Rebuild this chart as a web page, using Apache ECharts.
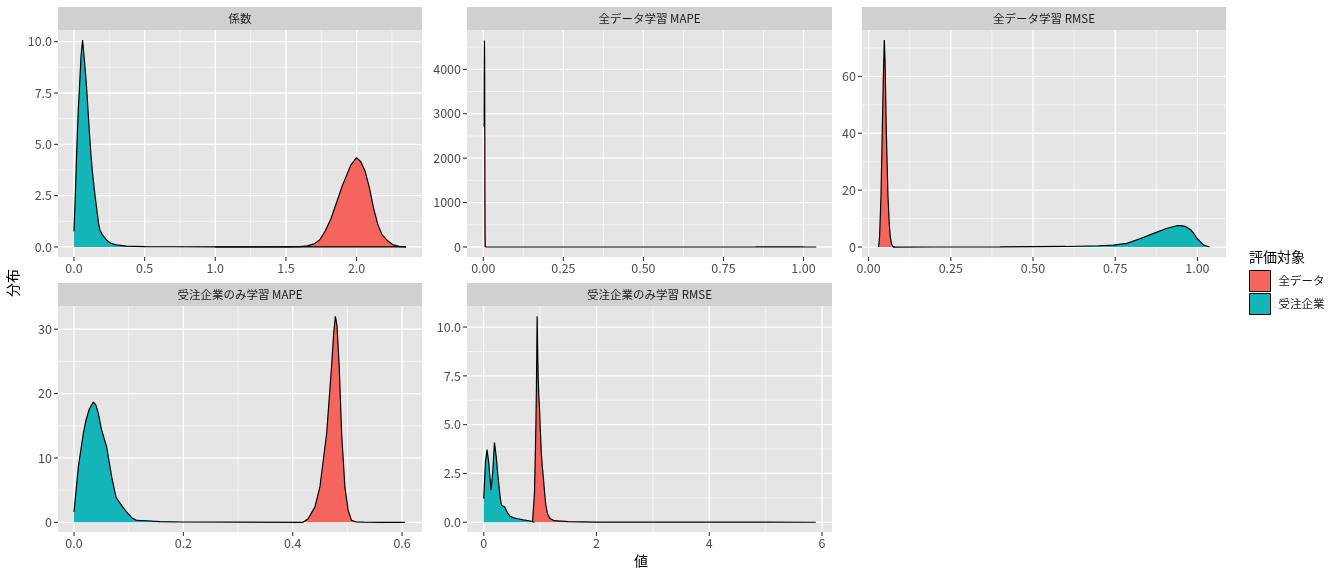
<!DOCTYPE html>
<html>
<head>
<meta charset="utf-8">
<script src="https://cdn.jsdelivr.net/npm/echarts@6/dist/echarts.min.js"></script>
<style>
  html, body { margin: 0; padding: 0; background: #fff; }
  #chart { width: 1340px; height: 576px; }
</style>
</head>
<body>
<div id="chart"></div>
<script>
// 凡例
const groups = ['全データ', '受注企業'];
const groupColors = ['#F6645E', '#13B5B9'];
const panelTitles = ['係数', '全データ学習 MAPE', '全データ学習 RMSE', '受注企業のみ学習 MAPE', '受注企業のみ学習 RMSE'];

// 係数
const coefAllX = [1.0, 1.5, 1.6, 1.65, 1.7, 1.74, 1.78, 1.82, 1.86, 1.9, 1.93, 1.96, 2.0, 2.03, 2.06, 2.09, 2.12, 2.15, 2.18, 2.22, 2.26, 2.3, 2.35];
const coefAllY = [0, 0.003, 0.02, 0.05, 0.15, 0.35, 0.8, 1.4, 2.2, 3.0, 3.5, 4.0, 4.35, 4.15, 3.7, 2.9, 1.9, 1.1, 0.6, 0.3, 0.1, 0.03, 0];
const coefOrdX = [0, 0.01, 0.02, 0.03, 0.04, 0.05, 0.061, 0.07, 0.08, 0.09, 0.1, 0.11, 0.12, 0.13, 0.14, 0.15, 0.165, 0.175, 0.184, 0.2, 0.23, 0.26, 0.3, 0.37, 0.5, 0.7, 1.0, 1.5, 2.0, 2.35];
const coefOrdY = [0.75, 2.6, 4.8, 6.6, 7.9, 9.3, 10.08, 9.4, 8.6, 7.7, 6.6, 5.5, 4.5, 3.7, 3.05, 2.45, 1.64, 1.1, 0.83, 0.6, 0.34, 0.18, 0.1, 0.04, 0.02, 0.01, 0.005, 0.002, 0.001, 0];
const coefXTicks = ['0.0', '0.5', '1.0', '1.5', '2.0'];
const coefYTicks = ['0.0', '2.5', '5.0', '7.5', '10.0'];

// 全データ学習 MAPE
const mapeAllAllX = [0.0025, 0.003, 0.0035, 0.004, 0.0045, 0.005, 0.0055, 0.006];
const mapeAllAllY = [2700, 3800, 4650, 4200, 2800, 1200, 300, 0];
const mapeAllOrdX = [0.006, 0.1, 0.3, 0.5, 0.6, 0.7, 0.75, 0.8, 0.85, 0.9, 0.94, 0.98, 1.0, 1.02, 1.04];
const mapeAllOrdY = [0, 0.01, 0.02, 0.05, 0.1, 0.2, 0.3, 0.6, 1.4, 2.5, 3.0, 2.4, 1.2, 0.4, 0];
const mapeAllXTicks = ['0.00', '0.25', '0.50', '0.75', '1.00'];
const mapeAllYTicks = ['0', '1000', '2000', '3000', '4000'];

// 全データ学習 RMSE
const rmseAllAllX = [0.0304, 0.0335, 0.0377, 0.0417, 0.045, 0.0478, 0.05, 0.0539, 0.059, 0.063, 0.066, 0.07, 0.074, 0.08];
const rmseAllAllY = [0, 3.6, 17.7, 41, 60, 72.8, 66, 41, 17.7, 8, 3.6, 1, 0.2, 0];
const rmseAllOrdX = [0.074, 0.2, 0.4, 0.6, 0.7, 0.745, 0.786, 0.827, 0.867, 0.908, 0.938, 0.95, 0.96, 0.969, 0.98, 0.99, 0.999, 1.019, 1.037];
const rmseAllOrdY = [0, 0.02, 0.05, 0.2, 0.45, 0.7, 1.3, 3.0, 4.8, 6.6, 7.5, 7.55, 7.35, 6.9, 6.0, 4.6, 3.0, 0.7, 0];
const rmseAllXTicks = ['0.00', '0.25', '0.50', '0.75', '1.00'];
const rmseAllYTicks = ['0', '20', '40', '60'];

// 受注企業のみ学習 MAPE
const mapeOrdAllX = [0.4192, 0.4283, 0.4406, 0.4497, 0.4558, 0.462, 0.471, 0.475, 0.478, 0.481, 0.485, 0.4894, 0.4954, 0.5015, 0.5076, 0.516, 0.53, 0.56, 0.605];
const mapeOrdAllY = [0.05, 0.57, 2.4, 5.5, 9.6, 13.8, 24.2, 29.5, 32.0, 30.5, 24.2, 13.8, 5.5, 1.8, 0.3, 0.05, 0.02, 0.01, 0];
const mapeOrdOrdX = [0, 0.0079, 0.017, 0.022, 0.028, 0.0353, 0.04, 0.0445, 0.0506, 0.0597, 0.0689, 0.0768, 0.0872, 0.0963, 0.1055, 0.1146, 0.133, 0.157, 0.2, 0.3, 0.42];
const mapeOrdOrdY = [1.6, 8.6, 13.8, 15.9, 17.6, 18.7, 18.2, 16.9, 14.3, 11.7, 7.05, 3.9, 2.6, 1.6, 0.72, 0.3, 0.25, 0.12, 0.05, 0.02, 0];
const mapeOrdXTicks = ['0.0', '0.2', '0.4', '0.6'];
const mapeOrdYTicks = ['0', '10', '20', '30'];

// 受注企業のみ学習 RMSE
const rmseOrdAllX = [0.865, 0.876, 0.9, 0.915, 0.925, 0.935, 0.942, 0.947, 0.955, 0.965, 0.975, 0.99, 1.0, 1.02, 1.04, 1.06, 1.08, 1.1, 1.13, 1.17, 1.25, 1.5, 2.0, 3.0, 4.0, 5.0, 5.89];
const rmseOrdAllY = [0, 0.1, 1.5, 3.5, 5.0, 7.0, 9.0, 10.56, 9.0, 7.5, 6.6, 5.8, 5.0, 3.6, 2.8, 2.2, 1.5, 0.9, 0.45, 0.2, 0.08, 0.03, 0.01, 0.005, 0.003, 0.002, 0];
const rmseOrdOrdX = [0, 0.03, 0.059, 0.09, 0.13, 0.16, 0.19, 0.22, 0.254, 0.29, 0.314, 0.34, 0.373, 0.4, 0.43, 0.47, 0.52, 0.6, 0.7, 0.85, 0.9];
const rmseOrdOrdY = [1.21, 3.1, 3.72, 3.0, 1.64, 2.6, 4.08, 3.4, 2.32, 1.3, 0.87, 0.8, 0.78, 0.6, 0.44, 0.3, 0.24, 0.18, 0.12, 0.05, 0];
const rmseOrdXTicks = ['0', '2', '4', '6'];
const rmseOrdYTicks = ['0.0', '2.5', '5.0', '7.5', '10.0'];

const FONT = '"Noto Sans CJK JP", "Noto Sans", sans-serif';

// パネル配置 (left, top, width, height) と軸範囲
const panels = [
  { box: [58, 30, 364, 227], xr: [-0.113, 2.463], yr: [-0.49, 10.57], xt: coefXTicks, yt: coefYTicks,
    curves: [[coefAllX, coefAllY], [coefOrdX, coefOrdY]] },
  { box: [467, 30, 365, 227], xr: [-0.051, 1.089], yr: [-225, 4885], xt: mapeAllXTicks, yt: mapeAllYTicks,
    curves: [[mapeAllAllX, mapeAllAllY], [mapeAllOrdX, mapeAllOrdY]] },
  { box: [862, 30, 364, 227], xr: [-0.02, 1.087], yr: [-3.5, 76.3], xt: rmseAllXTicks, yt: rmseAllYTicks,
    curves: [[rmseAllAllX, rmseAllAllY], [rmseAllOrdX, rmseAllOrdY]] },
  { box: [58, 306, 364, 226], xr: [-0.0293, 0.6364], yr: [-1.5, 33.6], xt: mapeOrdXTicks, yt: mapeOrdYTicks,
    curves: [[mapeOrdAllX, mapeOrdAllY], [mapeOrdOrdX, mapeOrdOrdY]] },
  { box: [467, 306, 365, 226], xr: [-0.297, 6.177], yr: [-0.5, 11.08], xt: rmseOrdXTicks, yt: rmseOrdYTicks,
    curves: [[rmseOrdAllX, rmseOrdAllY], [rmseOrdOrdX, rmseOrdOrdY]] }
];

function decimals(labels) {
  return (labels[0].split('.')[1] || '').length;
}

// kind: 1 = major grid, 0 = minor grid
function gridValues(labels, range, dir) {
  const vals = labels.map(Number);
  const step = vals[1] - vals[0];
  const out = [];
  vals.forEach(v => out.push([dir, v, 1]));
  for (let i = -1; i < vals.length; i++) {
    const m = vals[0] + (i + 0.5) * step;
    if (m > range[0] && m < range[1]) out.push([dir, m, 0]);
  }
  return out;
}

function gridRenderer(xr, yr) {
  return function (params, api) {
    const dir = api.value(0), v = api.value(1);
    const a = dir === 0 ? api.coord([v, yr[0]]) : api.coord([xr[0], v]);
    const b = dir === 0 ? api.coord([v, yr[1]]) : api.coord([xr[1], v]);
    return {
      type: 'line',
      shape: { x1: a[0], y1: a[1], x2: b[0], y2: b[1] },
      style: { stroke: '#ffffff', lineWidth: api.value(2) === 1 ? 1.3 : 0.6 },
      silent: true
    };
  };
}

const grids = [], xAxes = [], yAxes = [], series = [], graphics = [];

panels.forEach((p, i) => {
  const [l, t, w, h] = p.box;
  grids.push({ left: l, top: t, width: w, height: h, show: true, backgroundColor: '#E5E5E5', borderWidth: 0 });

  const axisCommon = {
    gridIndex: i,
    axisLine: { show: true, onZero: false, lineStyle: { color: 'rgba(0,0,0,0)' } },
    splitLine: { show: false },
    axisTick: { show: true, length: 4, lineStyle: { color: 'rgba(0,0,0,0)', width: 1 } }
  };
  const xd = decimals(p.xt), yd = decimals(p.yt);
  xAxes.push(Object.assign({}, axisCommon, {
    type: 'value', position: 'bottom', min: p.xr[0], max: p.xr[1],
    axisTick: Object.assign({}, axisCommon.axisTick, { customValues: p.xt.map(Number) }),
    axisLabel: { customValues: p.xt.map(Number), formatter: v => v.toFixed(xd), color: '#4D4D4D',
      fontSize: 12.5, fontFamily: FONT, margin: 5 }
  }));
  yAxes.push(Object.assign({}, axisCommon, {
    type: 'value', position: 'left', min: p.yr[0], max: p.yr[1],
    axisTick: Object.assign({}, axisCommon.axisTick, { customValues: p.yt.map(Number) }),
    axisLabel: { customValues: p.yt.map(Number), formatter: v => v.toFixed(yd), color: '#4D4D4D',
      fontSize: 12.5, fontFamily: FONT, margin: 6 }
  }));

  // グリッド線
  series.push({
    type: 'custom', xAxisIndex: i, yAxisIndex: i, z: 1, silent: true, animation: false,
    renderItem: gridRenderer(p.xr, p.yr),
    data: gridValues(p.xt, p.xr, 0).concat(gridValues(p.yt, p.yr, 1))
  });

  // 密度
  p.curves.forEach((c, g) => {
    series.push({
      name: groups[g], type: 'line', xAxisIndex: i, yAxisIndex: i, z: 2 + g,
      showSymbol: false, symbol: 'none', silent: true, animation: false,
      itemStyle: { color: groupColors[g] },
      lineStyle: { color: '#000000', width: 1.2 },
      areaStyle: { color: groupColors[g], opacity: 1 },
      data: c[0].map((x, k) => [x, c[1][k]])
    });
  });

  // ストリップ
  graphics.push({ type: 'rect', left: l, top: t - 23, shape: { width: w, height: 23 }, style: { fill: '#D0D0D0' }, z: 0 });
  graphics.push({ type: 'text', x: l + w / 2, y: t - 11.5,
    style: { text: panelTitles[i], fill: '#1A1A1A', font: '11.5px ' + FONT, align: 'center', verticalAlign: 'middle' } });
});

graphics.push({ type: 'text', x: 641, y: 561, style: { text: '値', fill: '#000', font: '14px ' + FONT, align: 'center', verticalAlign: 'middle' } });
graphics.push({ type: 'text', x: 13, y: 283, rotation: Math.PI / 2,
  style: { text: '分布', fill: '#000', font: '14px ' + FONT, align: 'center', verticalAlign: 'middle' } });
graphics.push({ type: 'text', x: 1249, y: 257, style: { text: '評価対象', fill: '#000', font: '14px ' + FONT, align: 'left', verticalAlign: 'middle' } });

const chart = echarts.init(document.getElementById('chart'), null, { renderer: 'canvas' });
chart.setOption({
  animation: false,
  backgroundColor: '#ffffff',
  grid: grids,
  xAxis: xAxes,
  yAxis: yAxes,
  series: series,
  graphic: graphics,
  legend: {
    orient: 'vertical', left: 1249, top: 270, padding: 0, itemWidth: 21, itemHeight: 21, itemGap: 1,
    selectedMode: false, icon: 'rect',
    textStyle: { fontSize: 11.5, color: '#1A1A1A', fontFamily: FONT, padding: [0, 0, 0, 3] },
    data: groups.map((g, k) => ({ name: g, icon: 'rect', itemStyle: { color: groupColors[k], borderColor: '#000', borderWidth: 1 } }))
  }
});

// 目盛り線 (軸スケールで位置を求める)
const tickMarks = [];
panels.forEach((p, i) => {
  p.xt.map(Number).forEach(v => {
    const pt = chart.convertToPixel({ gridIndex: i }, [v, p.yr[0]]);
    tickMarks.push({ type: 'line', z: 10, silent: true,
      shape: { x1: pt[0], y1: pt[1], x2: pt[0], y2: pt[1] + 4 }, style: { stroke: '#333333', lineWidth: 1.1 } });
  });
  p.yt.map(Number).forEach(v => {
    const pt = chart.convertToPixel({ gridIndex: i }, [p.xr[0], v]);
    tickMarks.push({ type: 'line', z: 10, silent: true,
      shape: { x1: pt[0] - 4, y1: pt[1], x2: pt[0], y2: pt[1] }, style: { stroke: '#333333', lineWidth: 1.1 } });
  });
});
chart.setOption({ graphic: graphics.concat(tickMarks) });
</script>
</body>
</html>
